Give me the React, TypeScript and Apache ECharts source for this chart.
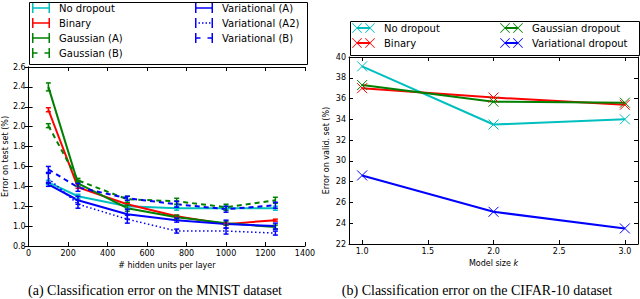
import React, { useEffect, useRef } from "react";
import * as echarts from "echarts";

// ---- Data: MNIST (left) ----
const hiddenUnits = [100, 250, 500, 750, 1000, 1250];
const noDropoutA = [1.44, 1.30, 1.20, 1.18, 1.18, 1.18];
const noDropoutAErr = [0.02, 0.02, 0.02, 0.02, 0.02, 0.02];
const binaryA = [2.17, 1.39, 1.22, 1.10, 1.02, 1.06];
const binaryAErr = [0.02, 0.01, 0.01, 0.01, 0.01, 0.01];
const gaussA = [2.40, 1.43, 1.18, 1.09, 1.03, 0.99];
const gaussAErr = [0.04, 0.03, 0.03, 0.02, 0.02, 0.02];
const gaussB = [2.01, 1.46, 1.27, 1.25, 1.19, 1.26];
const gaussBErr = [0.02, 0.02, 0.03, 0.03, 0.03, 0.03];
const varA = [1.42, 1.26, 1.12, 1.06, 1.02, 1.00];
const varAErr = [0.02, 0.04, 0.05, 0.02, 0.04, 0.03];
const varA2 = [1.48, 1.22, 1.07, 0.95, 0.95, 0.93];
const varA2Err = [0.05, 0.04, 0.04, 0.02, 0.03, 0.02];
const varB = [1.57, 1.39, 1.28, 1.22, 1.17, 1.21];
const varBErr = [0.03, 0.04, 0.02, 0.03, 0.03, 0.03];

// ---- Data: CIFAR-10 (right) ----
const modelSize = [1.0, 2.0, 3.0];
const cNoDropout = [39.1, 33.5, 34.0];
const cBinary = [37.0, 36.1, 35.4];
const cGaussian = [37.3, 35.7, 35.6];
const cVariational = [28.6, 25.1, 23.5];
const rightXTicks = [1.0, 1.5, 2.0, 2.5, 3.0];

const CYAN = "#00BFBF";
const RED = "#FF0000";
const GREEN = "#008000";
const BLUE = "#0000FF";
const FONT = "DejaVu Sans";

const ICON_SOLID = "path://M0,0H1.5V10H0Z M1.5,4.25H16.5V5.75H1.5Z M16.5,0H18V10H16.5Z";
const ICON_DASH = "path://M0,0H1.5V10H0Z M1.5,4.25H5.5V5.75H1.5Z M12.5,4.25H16.5V5.75H12.5Z M16.5,0H18V10H16.5Z";
const ICON_DOT =
  "path://M0,0H1.5V10H0Z M3.5,4.25H5V5.75H3.5Z M7,4.25H8.5V5.75H7Z M10.5,4.25H12V5.75H10.5Z M14,4.25H15.5V5.75H14Z M16.5,0H18V10H16.5Z";
const ICON_XX =
  "path://M0,0.6L0.6,0L10,9.4L9.4,10Z M10,0.6L0.6,10L0,9.4L9.4,0Z " +
  "M13,0.6L13.6,0L23,9.4L22.4,10Z M23,0.6L13.6,10L13,9.4L22.4,0Z M5,4H18V6H5Z";

export default function App() {
  const ref = useRef<HTMLDivElement>(null);
  useEffect(() => {
    if (!ref.current) return;
    const chart = echarts.init(ref.current, null, { renderer: "svg" });

    const leftSeries = [
      { name: "No dropout", v: noDropoutA, e: noDropoutAErr, c: CYAN, t: "solid", w: 2, icon: ICON_SOLID },
      { name: "Binary", v: binaryA, e: binaryAErr, c: RED, t: "solid", w: 2, icon: ICON_SOLID },
      { name: "Gaussian (A)", v: gaussA, e: gaussAErr, c: GREEN, t: "solid", w: 2, icon: ICON_SOLID },
      { name: "Gaussian (B)", v: gaussB, e: gaussBErr, c: GREEN, t: [5, 4], w: 2, icon: ICON_DASH },
      { name: "Variational (A)", v: varA, e: varAErr, c: BLUE, t: "solid", w: 2, icon: ICON_SOLID },
      { name: "Variational (A2)", v: varA2, e: varA2Err, c: BLUE, t: [1.5, 2.5], w: 1.5, icon: ICON_DOT },
      { name: "Variational (B)", v: varB, e: varBErr, c: BLUE, t: [5, 4], w: 2, icon: ICON_DASH },
    ];

    const series: any[] = [];
    leftSeries.forEach((s) => {
      series.push({
        name: s.name,
        type: "line",
        xAxisIndex: 0,
        yAxisIndex: 0,
        symbol: "none",
        data: hiddenUnits.map((x, i) => [x, s.v[i]]),
        lineStyle: { color: s.c, width: s.w, type: s.t },
        itemStyle: { color: s.c },
        z: 2,
      });
      series.push({
        name: s.name + " err",
        type: "custom",
        xAxisIndex: 0,
        yAxisIndex: 0,
        data: hiddenUnits.map((x, i) => [x, s.v[i] - s.e[i], s.v[i] + s.e[i]]),
        encode: { x: 0, y: [1, 2] },
        renderItem: (params: any, api: any) => {
          const x = api.value(0);
          const lo = api.coord([x, api.value(1)]);
          const hi = api.coord([x, api.value(2)]);
          const style = { stroke: s.c, lineWidth: 1.5 };
          return {
            type: "group",
            children: [
              { type: "line", shape: { x1: lo[0], y1: lo[1], x2: hi[0], y2: hi[1] }, style },
              { type: "line", shape: { x1: lo[0] - 2.5, y1: lo[1], x2: lo[0] + 2.5, y2: lo[1] }, style },
              { type: "line", shape: { x1: hi[0] - 2.5, y1: hi[1], x2: hi[0] + 2.5, y2: hi[1] }, style },
            ],
          };
        },
        z: 3,
      });
    });

    const X_SYMBOL = "path://M0,0L10,10M10,0L0,10";
    const rightSeries = [
      { name: "No dropout ", v: cNoDropout, c: CYAN },
      { name: "Binary ", v: cBinary, c: RED },
      { name: "Gaussian dropout", v: cGaussian, c: GREEN },
      { name: "Variational dropout", v: cVariational, c: BLUE },
    ];
    rightSeries.forEach((s) => {
      series.push({
        name: s.name,
        type: "line",
        xAxisIndex: 1,
        yAxisIndex: 1,
        symbol: X_SYMBOL,
        symbolSize: 10,
        data: modelSize.map((x, i) => [x, s.v[i]]),
        lineStyle: { color: s.c, width: 2 },
        itemStyle: { color: s.c, borderColor: s.c, borderWidth: 1 },
      });
    });

    const axisText = { color: "#000", fontFamily: FONT, fontSize: 8 };
    const tick = { show: true, inside: true, length: 4, lineStyle: { color: "#000" } };
    const line = { show: true, lineStyle: { color: "#000", width: 1 } };

    const leftX = { min: 0, max: 1400, interval: 200 };
    const leftY = { min: 0.8, max: 2.6, interval: 0.2 };
    const rightX = { min: 0.9, max: 3.1 };
    const rightY = { min: 22, max: 40, interval: 2 };

    const legendBase = {
      orient: "vertical",
      itemGap: 5,
      itemHeight: 10,
      itemStyle: { borderWidth: 0 },
      textStyle: { color: "#000", fontFamily: FONT, fontSize: 10, padding: [0, 0, 0, 4] },
      padding: 0,
    };
    const iconOf = (n: string) => leftSeries.find((s) => s.name === n)!.icon;

    const option: any = {
      animation: false,
      backgroundColor: "#fff",
      grid: [
        { left: 28, top: 67, width: 277, height: 179, show: false },
        { left: 349, top: 57, width: 289, height: 187, show: false },
      ],
      xAxis: [
        {
          type: "value", gridIndex: 0, ...leftX, position: "bottom",
          axisLine: line, axisTick: tick, splitLine: { show: false },
          axisLabel: { ...axisText, margin: 3, formatter: (v: number) => String(v) },
          name: "# hidden units per layer", nameLocation: "middle", nameGap: 13,
          nameTextStyle: { ...axisText },
        },
        {
          type: "value", gridIndex: 1, ...rightX, position: "bottom",
          axisLine: line,
          axisTick: { ...tick, customValues: rightXTicks },
          splitLine: { show: false },
          axisLabel: { ...axisText, margin: 3, customValues: rightXTicks, formatter: (v: number) => v.toFixed(1) },
          name: "Model size {i|k}", nameLocation: "middle", nameGap: 13,
          nameTextStyle: { ...axisText, rich: { i: { ...axisText, fontStyle: "italic" } } },
        },
        {
          type: "value", gridIndex: 0, ...leftX, position: "top",
          axisLine: line, axisTick: tick, splitLine: { show: false }, axisLabel: { show: false },
        },
        {
          type: "value", gridIndex: 1, ...rightX, position: "top",
          axisLine: line, axisTick: { ...tick, customValues: rightXTicks },
          splitLine: { show: false }, axisLabel: { show: false },
        },
      ],
      yAxis: [
        {
          type: "value", gridIndex: 0, ...leftY, position: "left",
          axisLine: line, axisTick: tick, splitLine: { show: false },
          axisLabel: { ...axisText, margin: 3, formatter: (v: number) => v.toFixed(1) },
          name: "Error on test set (%)", nameLocation: "middle", nameGap: 19,
          nameTextStyle: { ...axisText },
        },
        {
          type: "value", gridIndex: 1, ...rightY, position: "left",
          axisLine: line, axisTick: tick, splitLine: { show: false },
          axisLabel: { ...axisText, margin: 3 },
          name: "Error on valid. set (%)", nameLocation: "middle", nameGap: 19,
          nameTextStyle: { ...axisText },
        },
        {
          type: "value", gridIndex: 0, ...leftY, position: "right",
          axisLine: line, axisTick: tick, splitLine: { show: false }, axisLabel: { show: false },
        },
        {
          type: "value", gridIndex: 1, ...rightY, position: "right",
          axisLine: line, axisTick: tick, splitLine: { show: false }, axisLabel: { show: false },
        },
      ],
      legend: [
        {
          ...legendBase, left: 32, top: 3, itemWidth: 18,
          data: ["No dropout", "Binary", "Gaussian (A)", "Gaussian (B)"].map((n) => ({ name: n, icon: iconOf(n) })),
        },
        {
          ...legendBase, left: 195, top: 3, itemWidth: 18,
          data: ["Variational (A)", "Variational (A2)", "Variational (B)"].map((n) => ({ name: n, icon: iconOf(n) })),
        },
        {
          ...legendBase, left: 352, top: 23, itemWidth: 23,
          data: ["No dropout ", "Binary "].map((n) => ({ name: n, icon: ICON_XX })),
        },
        {
          ...legendBase, left: 500, top: 23, itemWidth: 23,
          data: ["Gaussian dropout", "Variational dropout"].map((n) => ({ name: n, icon: ICON_XX })),
        },
      ],
      graphic: [
        {
          type: "rect", left: 27, top: 0, shape: { width: 278, height: 62 },
          style: { fill: "none", stroke: "#000", lineWidth: 1 }, z: -1,
        },
        {
          type: "rect", left: 348, top: 19, shape: { width: 289, height: 34 },
          style: { fill: "none", stroke: "#000", lineWidth: 1 }, z: -1,
        },
        {
          type: "text", x: 155, y: 290,
          style: {
            text: "(a) Classification error on the MNIST dataset",
            fontFamily: "Liberation Serif", fontSize: 14, fill: "#000",
            align: "center", verticalAlign: "middle",
          },
        },
        {
          type: "text", x: 477, y: 290,
          style: {
            text: "(b) Classification error on the CIFAR-10 dataset",
            fontFamily: "Liberation Serif", fontSize: 14, fill: "#000",
            align: "center", verticalAlign: "middle",
          },
        },
      ],
      series,
    };

    chart.setOption(option);
    return () => chart.dispose();
  }, []);

  return (
    <div
      ref={ref}
      style={{ position: "fixed", left: 0, top: 0, width: 640, height: 299, background: "#fff" }}
    />
  );
}
